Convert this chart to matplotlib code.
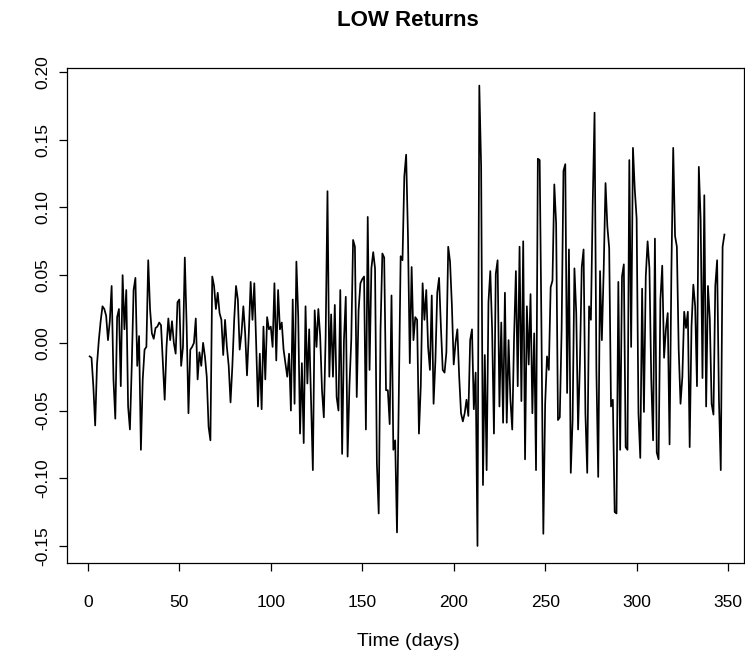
import matplotlib
matplotlib.use("Agg")
import matplotlib.pyplot as plt
import numpy as np

plt.rcParams['font.family'] = ['Liberation Sans', 'DejaVu Sans']
plt.rcParams['axes.unicode_minus'] = False

title = "LOW Returns"
xlabel = "Time (days)"
xticks = [0, 50, 100, 150, 200, 250, 300, 350]
yticks = [-0.15, -0.10, -0.05, 0.00, 0.05, 0.10, 0.15, 0.20]

seg1 = [-0.010, -0.011, -0.032, -0.061, -0.016, 0.002, 0.016, 0.027, 0.025, 0.020, 0.002, 0.016,
        0.042, -0.027, -0.056, 0.019, 0.025, -0.032, 0.050, 0.010, 0.039, -0.047, -0.064, -0.017,
        0.039, 0.048, -0.017, 0.005, -0.079, -0.027, -0.005, -0.003, 0.061]
seg2 = [0.025, 0.007, 0.003, 0.011, 0.012, 0.015, 0.013, -0.015, -0.042, -0.003, 0.018, 0.002,
        0.016, 0.000, -0.008, 0.030, 0.032, -0.017, -0.003, 0.063, 0.013, -0.052, -0.005, -0.003,
        0.000, 0.018, -0.027, -0.007, -0.017, 0.000, -0.010, -0.025, -0.062]
seg3 = [-0.072, 0.049, 0.042, 0.025, 0.037, 0.022, 0.017, -0.009, 0.017, -0.003, -0.017, -0.044,
        -0.017, 0.017, 0.042, 0.032, -0.005, 0.007, 0.027, 0.007, -0.024, 0.007, 0.045, 0.017,
        0.044, -0.000, -0.047, -0.008, -0.049, 0.012, -0.027, 0.019, 0.010]
seg4 = [0.012, -0.003, 0.044, -0.013, 0.039, 0.010, 0.015, -0.005, -0.015, -0.025, -0.008, -0.050,
        0.032, -0.045, 0.060, 0.020, -0.067, -0.015, -0.074, 0.027, -0.030, 0.010, -0.042, -0.094,
        0.024, -0.003, 0.025, 0.005, -0.035, -0.055, 0.005, 0.112, -0.025]
seg5 = [0.021, -0.025, 0.028, -0.040, -0.050, 0.039, -0.082, 0.002, 0.034, -0.084,
        -0.032, 0.002, 0.076, 0.071, -0.040, 0.024, 0.044, 0.047, 0.049, -0.064, 0.093, -0.020,
        0.055, 0.067, 0.055, -0.089, -0.126, 0.010, 0.066, 0.063, -0.035]
seg6 = [-0.035, -0.060, 0.035, -0.079, -0.072, -0.140, -0.040, 0.064, 0.061, 0.123, 0.139,
        0.079, -0.015, 0.056, 0.002, 0.019, 0.017, -0.067, -0.032, 0.044, 0.017, 0.039, -0.003,
        -0.020, 0.035, -0.045, -0.013, 0.037, 0.048, 0.012, -0.020, -0.022]
seg7 = [-0.007, 0.071, 0.060, 0.028, -0.016, -0.000, 0.010, -0.025, -0.052, -0.058, -0.052, -0.042,
        -0.054, 0.002, 0.010, -0.049, -0.022, -0.150, 0.190, 0.130, -0.105, -0.009, -0.094, 0.030,
        0.053, 0.010, -0.067, 0.051, 0.061, -0.047, 0.015, -0.059, 0.037]
seg8 = [-0.059, 0.002, -0.042, -0.064, 0.004, 0.053, -0.032, 0.071, -0.043, 0.075, -0.086, 0.027,
        -0.016, 0.036, -0.052, 0.007, -0.094, 0.136, 0.135, 0.007, -0.141, -0.045, -0.010, -0.020,
        0.041, 0.046, 0.117, 0.088, -0.057, -0.055, 0.010, 0.127, 0.132]
seg9 = [-0.037, 0.069, -0.096, -0.057, 0.055, 0.022, -0.064, -0.015, 0.056, 0.069, -0.052, -0.096,
        0.027, 0.017, 0.103, 0.170, -0.020, -0.099, 0.053, 0.002, 0.054, 0.118, 0.086, 0.070,
        -0.047, -0.042, -0.125, -0.126, 0.045, -0.079, 0.049, 0.058, -0.077]
seg10 = [-0.079, 0.135, -0.003, 0.144, 0.113, 0.092, -0.052, -0.085, 0.040, -0.051, 0.049, 0.075,
         0.055, -0.027, -0.072, 0.077, -0.081, -0.086, 0.032, 0.057, -0.011, 0.010, 0.022, -0.075,
         0.052, 0.144, 0.079, 0.071, -0.005, -0.045, -0.025, 0.023, 0.011]
seg11 = [0.023, -0.077, 0.012, 0.043, 0.027, -0.032, 0.130, 0.091, -0.026, 0.109, -0.047, 0.042,
         0.018, -0.045, -0.053, 0.042, 0.061, -0.042, -0.094, 0.071, 0.080]

returns = np.array(seg1 + seg2 + seg3 + seg4 + seg5 + seg6 + seg7 + seg8 + seg9 + seg10 + seg11)
days = np.arange(1, len(returns) + 1)

fig = plt.figure(figsize=(7.45, 6.65), dpi=100)
ax = fig.add_axes([67 / 745, 1 - 563 / 665, (744 - 67) / 745, (563 - 68) / 665])
ax.plot(days, returns, color='black', lw=1.25)

ax.set_xlim(-11.4, 358.7)
ax.set_ylim(-0.1626, 0.203)
ax.set_xticks(xticks)
ax.set_xticklabels([str(t) for t in xticks])
ax.set_yticks(yticks)
ax.set_yticklabels([f"{t:.2f}" for t in yticks], rotation=90, va='center')
ax.tick_params(axis='both', direction='out', length=6, width=0.9, labelsize=12.5)
ax.tick_params(axis='x', pad=17)
ax.tick_params(axis='y', pad=6)
for s in ax.spines.values():
    s.set_linewidth(0.9)

fig.text(408 / 745, 1 - 21 / 665, title, ha='center', va='center', fontsize=16, fontweight='bold')
fig.text(408 / 745, 1 - 641 / 665, xlabel, ha='center', va='center', fontsize=14)

fig.savefig("out.png", dpi=100)
